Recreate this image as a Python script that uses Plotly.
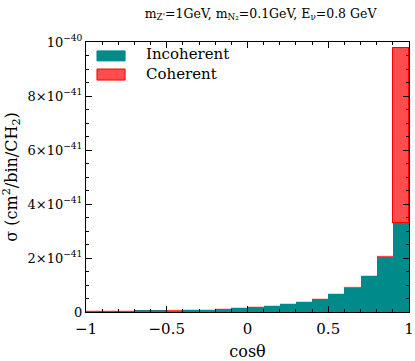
import plotly.graph_objects as go

# cos(theta) bins, width 0.1
bin_centers = [-0.95, -0.85, -0.75, -0.65, -0.55, -0.45, -0.35, -0.25, -0.15, -0.05,
               0.05, 0.15, 0.25, 0.35, 0.45, 0.55, 0.65, 0.75, 0.85, 0.95]
# cross sections in units of 1e-41 cm^2/bin/CH2
incoherent = [0.030, 0.033, 0.036, 0.040, 0.045, 0.052, 0.065, 0.085, 0.11, 0.15,
              0.18, 0.22, 0.28, 0.36, 0.47, 0.65, 0.90, 1.32, 2.05, 3.29]
coherent = [0.005, 0.005, 0.005, 0.005, 0.005, 0.005, 0.005, 0.005, 0.005, 0.005,
            0.006, 0.006, 0.008, 0.008, 0.010, 0.010, 0.012, 0.012, 0.015, 6.48]

y_tickvals = [0, 2, 4, 6, 8, 10]
y_ticktext = ["0", "2×10<sup>−41</sup>", "4×10<sup>−41</sup>", "6×10<sup>−41</sup>",
              "8×10<sup>−41</sup>", "10<sup>−40</sup>"]
x_tickvals = [-1, -0.5, 0, 0.5, 1]
x_ticktext = ["−1", "−0.5", "0", "0.5", "1"]

font = "DejaVu Serif"
scale = 1e-41
teal = "#008b8b"
red_fill = "#ff4d4d"

fig = go.Figure()
fig.add_trace(go.Bar(
    x=bin_centers, y=[v * scale for v in incoherent], width=0.1,
    name="Incoherent",
    marker=dict(color=teal, line=dict(width=0)),
))
fig.add_trace(go.Bar(
    x=bin_centers, y=[v * scale for v in coherent], width=0.1,
    name="Coherent",
    marker=dict(color=red_fill,
                line=dict(color=["rgba(255,0,0,0.2)"] * 19 + ["#ff0000"],
                          width=[0.5] * 19 + [1.2])),
))

axis_common = dict(
    showline=True, linecolor="black", linewidth=1, mirror="allticks",
    ticks="inside", ticklen=6, tickwidth=1, tickcolor="black",
    showgrid=False, zeroline=False, automargin=False,
)

# hand-drawn legend (wide swatches like the original)
legend_items = [("Incoherent", teal, teal, 0.930, 0.967, 0.956),
                ("Coherent", red_fill, "#ff0000", 0.859, 0.900, 0.882)]
for label, fill, edge, y0, y1, ty in legend_items:
    fig.add_shape(type="rect", xref="paper", yref="paper",
                  x0=0.034, x1=0.121, y0=y0, y1=y1,
                  fillcolor=fill, line=dict(color=edge, width=1))
    fig.add_annotation(text=label, xref="paper", yref="paper", x=0.18, y=ty,
                       xanchor="left", yanchor="middle", showarrow=False,
                       font=dict(family=font, size=15, color="black"))

fig.update_layout(
    barmode="stack", bargap=0, showlegend=False,
    width=415, height=361,
    margin=dict(l=86, r=6, t=42, b=49),
    paper_bgcolor="white", plot_bgcolor="white",
    font=dict(family=font, color="black"),
    title=dict(
        text="m<sub>Z'</sub>=1GeV, m<sub>N₂</sub>=0.1GeV, E<sub>ν</sub>=0.8 GeV",
        x=0.628, xanchor="center", y=0.963, yanchor="middle",
        font=dict(family=font, size=12.5, color="black"),
    ),
    xaxis=dict(
        range=[-1, 1], tickvals=x_tickvals, ticktext=x_ticktext,
        tickfont=dict(family=font, size=15, color="black"),
        ticklabelstandoff=3,
        minor=dict(dtick=0.1, ticks="inside", ticklen=3, tickcolor="black", showgrid=False),
        title=dict(text="cosθ", font=dict(family=font, size=16), standoff=8),
        **axis_common,
    ),
    yaxis=dict(
        range=[0, 1e-40], tickvals=[v * scale for v in y_tickvals], ticktext=y_ticktext,
        tickfont=dict(family=font, size=13, color="black"),
        minor=dict(dtick=0.5e-41, tick0=0, ticks="inside", ticklen=3, tickcolor="black", showgrid=False),
        title=dict(text="σ (cm<sup>2</sup>/bin/CH<sub>2</sub>)", font=dict(family=font, size=16), standoff=11),
        **axis_common,
    ),
)

# drop the default page margin so the 415x361 figure fills the window
fig.write_html("out.html", config={"displayModeBar": False},
               post_script="document.body.style.margin='0';document.body.style.overflow='hidden';")
